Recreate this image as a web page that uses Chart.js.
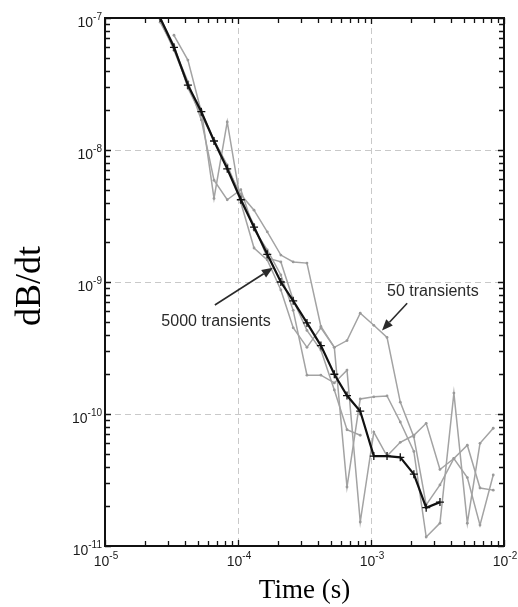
<!DOCTYPE html>
<html>
<head>
<meta charset="utf-8">
<script src="https://cdn.jsdelivr.net/npm/chart.js@4/dist/chart.umd.min.js"></script>
<style>
html,body{margin:0;padding:0;background:#fff;}
#wrap{position:relative;width:518px;height:607px;}
</style>
</head>
<body>
<div id="wrap"><canvas id="c" width="518" height="607"></canvas></div>
<script>
// ---- data ----
const timeValues = [2.6e-5, 3.3e-5, 4.2e-5, 5.3e-5, 6.6e-5, 8.3e-5, 1.05e-4, 1.32e-4, 1.66e-4, 2.1e-4, 2.6e-4, 3.3e-4, 4.2e-4, 5.3e-4, 6.6e-4, 8.3e-4, 1.05e-3, 1.32e-3, 1.66e-3, 2.1e-3, 2.6e-3, 3.3e-3, 4.2e-3, 5.3e-3, 6.6e-3, 8.3e-3];
const stack5000 = [1.0e-7, 6.0e-8, 3.1e-8, 1.95e-8, 1.17e-8, 7.2e-9, 4.2e-9, 2.6e-9, 1.62e-9, 1.0e-9, 7.2e-10, 4.9e-10, 3.3e-10, 2.0e-10, 1.38e-10, 1.05e-10, 4.8e-11, 4.8e-11, 4.7e-11, 3.5e-11, 1.95e-11, 2.15e-11];
const stack50a = [null, 7.4e-8, 4.8e-8, 1.94e-8, 1.19e-8, 7.3e-9, 4.6e-9, 3.5e-9, 2.4e-9, 1.6e-9, 1.42e-9, 1.39e-9, 4.6e-10, 3.2e-10, 3.6e-10, 5.8e-10, 4.7e-10, 3.8e-10, 1.23e-10, 6.7e-11, 2.05e-11, 2.9e-11, 4.6e-11, 5.8e-11, 2.75e-11, 2.65e-11];
const stack50b = [9.7e-8, 5.7e-8, 3.1e-8, 2.0e-8, 4.3e-9, 1.63e-8, 4.0e-9, 1.81e-9, 1.47e-9, 8.7e-10, 4.5e-10, 3.2e-10, 4.5e-10, 3.2e-10, 2.8e-11, 1.3e-10, 1.35e-10, 1.37e-10, 8.7e-11, 5.2e-11, 1.17e-11, 1.49e-11, 1.44e-10, 1.49e-11, 6.0e-11, 7.8e-11];
const stack50c = [9.3e-8, 5.9e-8, 3.3e-8, 1.69e-8, 5.9e-9, 4.2e-9, 5.0e-9, 2.5e-9, 1.75e-9, 1.13e-9, 6.1e-10, 1.97e-10, 1.97e-10, 1.72e-10, 2.15e-10, 1.52e-11, 7.3e-11, 4.8e-11, 6.1e-11, 6.9e-11, 8.5e-11, 3.8e-11, 4.6e-11, 3.3e-11, 1.44e-11, 3.45e-11];
const stack50d = [1.0e-7, 6.2e-8, 2.95e-8, 1.84e-8, 1.19e-8, 7.7e-9, 4.3e-9, 2.7e-9, 1.52e-9, 1.42e-9, 7.3e-10, 4.3e-10, 3.05e-10, 1.52e-10, 7.6e-11, 6.9e-11];

const xMajorTicks = [1e-5, 1e-4, 1e-3, 1e-2];
const xTickExponents = ['-5', '-4', '-3', '-2'];
const yMajorTicks = [1e-11, 1e-10, 1e-9, 1e-8, 1e-7];
const yTickExponents = ['-11', '-10', '-9', '-8', '-7'];
const xTitle = 'Time (s)';
const yTitle = 'dB/dt';
const annotationTexts = ['5000 transients', '50 transients'];

function pts(arr){ return arr.map((v,i)=>({x: timeValues[i], y: v})); }

const GRAY = '#a3a3a3';
function grayDs(arr){
  return {data: pts(arr), borderColor: GRAY, backgroundColor: GRAY, borderWidth: 1.5,
    pointRadius: 1.4, pointBorderWidth: 0, pointBackgroundColor: '#9a9a9a', tension: 0, spanGaps: false};
}

const decorPlugin = {
  id: 'decor',
  beforeDatasetsDraw(chart){
    const {ctx, chartArea: a, scales: {x, y}} = chart;
    ctx.save();
    ctx.strokeStyle = '#c9c9c9';
    ctx.lineWidth = 1;
    ctx.setLineDash([6, 4]);
    xMajorTicks.forEach(v => {
      const px = Math.round(x.getPixelForValue(v)) + 0.5;
      if (px > a.left + 2 && px < a.right - 2) { ctx.beginPath(); ctx.moveTo(px, a.top); ctx.lineTo(px, a.bottom); ctx.stroke(); }
    });
    yMajorTicks.forEach(v => {
      const py = Math.round(y.getPixelForValue(v)) + 0.5;
      if (py > a.top + 2 && py < a.bottom - 2) { ctx.beginPath(); ctx.moveTo(a.left, py); ctx.lineTo(a.right, py); ctx.stroke(); }
    });
    ctx.restore();
  },
  afterDatasetsDraw(chart){
    const {ctx, chartArea: a, scales: {x, y}} = chart;
    ctx.save();
    // ticks
    ctx.strokeStyle = '#111';
    ctx.lineWidth = 1.3;
    const xt = [], yt = [];
    for (let d = -5; d < -2; d++) for (let m = 1; m <= 9; m++) xt.push({v: m * Math.pow(10, d), major: m === 1});
    xt.push({v: 1e-2, major: true});
    for (let d = -11; d < -7; d++) for (let m = 1; m <= 9; m++) yt.push({v: m * Math.pow(10, d), major: m === 1});
    yt.push({v: 1e-7, major: true});
    xt.forEach(t => {
      const px = Math.round(x.getPixelForValue(t.v)) + 0.5, L = t.major ? 6 : 5;
      ctx.beginPath(); ctx.moveTo(px, a.bottom); ctx.lineTo(px, a.bottom - L);
      ctx.moveTo(px, a.top); ctx.lineTo(px, a.top + L); ctx.stroke();
    });
    yt.forEach(t => {
      const py = Math.round(y.getPixelForValue(t.v)) + 0.5, L = t.major ? 6 : 5;
      ctx.beginPath(); ctx.moveTo(a.left, py); ctx.lineTo(a.left + L, py);
      ctx.moveTo(a.right, py); ctx.lineTo(a.right - L, py); ctx.stroke();
    });
    // frame
    ctx.lineWidth = 2;
    ctx.strokeStyle = '#111';
    ctx.strokeRect(a.left, a.top, a.right - a.left, a.bottom - a.top);

    // tick labels with superscripts
    ctx.fillStyle = '#1a1a1a';
    ctx.textBaseline = 'middle';
    const base = '14px "Liberation Sans", Arial, sans-serif';
    const sup = '10px "Liberation Sans", Arial, sans-serif';
    function label(exp, cx, cy, align){
      ctx.font = base; const w1 = ctx.measureText('10').width;
      ctx.font = sup; const w2 = ctx.measureText(exp).width;
      const tot = w1 + w2;
      let left = align === 'right' ? cx - tot : cx - tot / 2;
      ctx.textAlign = 'left';
      ctx.font = base; ctx.fillText('10', left, cy);
      ctx.font = sup; ctx.fillText(exp, left + w1, cy - 6);
    }
    xMajorTicks.forEach((v, i) => label(xTickExponents[i], x.getPixelForValue(v) + 1, a.bottom + 16, 'center'));
    yMajorTicks.forEach((v, i) => label(yTickExponents[i], a.left - 3, y.getPixelForValue(v) + 5, 'right'));

    // axis titles
    ctx.fillStyle = '#000';
    ctx.textAlign = 'center';
    ctx.textBaseline = 'alphabetic';
    ctx.font = '27px "Liberation Serif", "Times New Roman", serif';
    ctx.fillText(xTitle, (a.left + a.right) / 2, 598);
    ctx.save();
    ctx.translate(40, (a.top + a.bottom) / 2 + 4);
    ctx.rotate(-Math.PI / 2);
    ctx.font = '36px "Liberation Serif", "Times New Roman", serif';
    ctx.fillText(yTitle, 0, 0);
    ctx.restore();

    // annotations with arrows
    function arrow(x0, y0, x1, y1){
      ctx.strokeStyle = '#2a2a2a'; ctx.fillStyle = '#2a2a2a'; ctx.lineWidth = 1.6;
      const ang = Math.atan2(y1 - y0, x1 - x0), hl = 11, hw = 4.5;
      const bx = x1 - hl * Math.cos(ang), by = y1 - hl * Math.sin(ang);
      ctx.beginPath(); ctx.moveTo(x0, y0); ctx.lineTo(bx, by); ctx.stroke();
      ctx.beginPath(); ctx.moveTo(x1, y1);
      ctx.lineTo(bx + hw * Math.sin(ang), by - hw * Math.cos(ang));
      ctx.lineTo(bx - hw * Math.sin(ang), by + hw * Math.cos(ang));
      ctx.closePath(); ctx.fill();
    }
    const P = (xv, yv) => [x.getPixelForValue(xv), y.getPixelForValue(yv)];
    ctx.font = '16px "Liberation Sans", Arial, sans-serif';
    ctx.fillStyle = '#2a2a2a';
    ctx.textAlign = 'center'; ctx.textBaseline = 'middle';
    let t = P(6.84e-5, 4.98e-10); ctx.fillText(annotationTexts[0], t[0], t[1]);
    let s = P(6.7e-5, 6.7e-10), e = P(1.83e-4, 1.28e-9); arrow(s[0], s[1], e[0], e[1]);
    t = P(2.92e-3, 8.4e-10); ctx.fillText(annotationTexts[1], t[0], t[1]);
    s = P(1.87e-3, 6.9e-10); e = P(1.21e-3, 4.3e-10); arrow(s[0], s[1], e[0], e[1]);
    ctx.restore();
  }
};

new Chart(document.getElementById('c'), {
  type: 'line',
  data: {
    datasets: [
      {data: pts(stack5000), borderColor: '#111', backgroundColor: '#111', borderWidth: 2.2,
       pointStyle: 'cross', pointRadius: 4, pointBorderWidth: 1.3, pointBorderColor: '#111', tension: 0},
      grayDs(stack50a), grayDs(stack50b), grayDs(stack50c), grayDs(stack50d)
    ]
  },
  options: {
    responsive: false,
    animation: false,
    layout: {padding: {left: 105, right: 14, top: 18, bottom: 61}},
    plugins: {legend: {display: false}, tooltip: {enabled: false}},
    scales: {
      x: {type: 'logarithmic', min: 1e-5, max: 1e-2, grid: {display: false}, border: {display: false},
          ticks: {display: false}, afterFit(s){ s.height = 0; }},
      y: {type: 'logarithmic', min: 1e-11, max: 1e-7, grid: {display: false}, border: {display: false},
          ticks: {display: false}, afterFit(s){ s.width = 0; }}
    }
  },
  plugins: [decorPlugin]
});
</script>
</body>
</html>
